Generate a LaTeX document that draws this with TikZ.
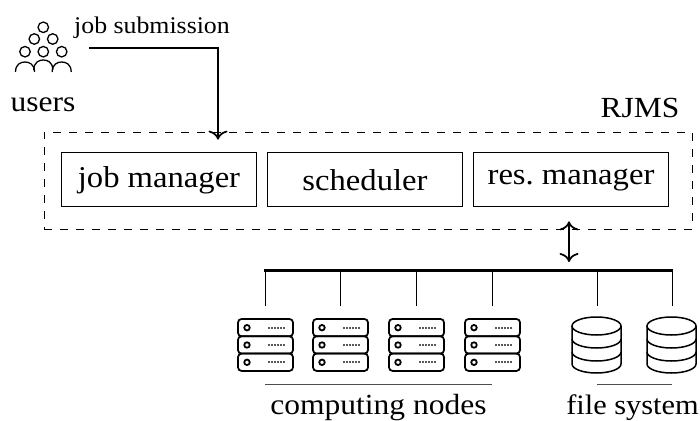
\documentclass[tikz,border=0pt]{standalone}
\usepackage{fontspec}
\setmainfont[FakeStretch=1.08]{Liberation Serif}
\usetikzlibrary{positioning,arrows.meta}

\begin{document}
\begin{tikzpicture}[
                    x=0.2mm, y=-0.2mm,
                    partnode/.style={draw, line width=0.2mm, minimum width=39mm, minimum height=10.8mm, inner sep=0pt, font=\fontsize{17.2}{19}\selectfont},
                    labelnode/.style={inner sep=0pt, font=\fontsize{16.6}{18}\selectfont},
                    smallnode/.style={inner sep=0pt, font=\fontsize{13.6}{15}\selectfont},
                    rjmsnode/.style={draw, dash pattern=on 1.6mm off 1.6mm, line width=0.15mm, minimum width=129.6mm, minimum height=19.4mm, inner sep=0pt},
                    wire/.style={line width=0.2mm},
                    arrowline/.style={line width=0.35mm},
                    server/.pic={
                        \foreach \row in {0,1,2} {
                            \draw[line width=0.35mm, rounded corners=0.7mm] (-27,{\row*17.3-26.5}) rectangle (28,{\row*17.3-9.2});
                            \draw[line width=0.35mm] (-18,{\row*17.3-17.8}) circle (0.55mm);
                            \draw[line width=0.35mm, dash pattern=on 0.3mm off 0.3mm, black!65] (3,{\row*17.3-17.8}) -- (20,{\row*17.3-17.8});
                        }
                    },
                    disk/.pic={
                        \draw[line width=0.3mm] (-24.5,-19) -- (-24.5,19) arc[start angle=180, end angle=0, x radius=24.5, y radius=9] -- (24.5,-19);
                        \draw[line width=0.3mm] (0,-19) ellipse [x radius=24.5, y radius=9];
                        \draw[line width=0.3mm] (-24.5,-6) arc[start angle=180, end angle=0, x radius=24.5, y radius=9];
                        \draw[line width=0.3mm] (-24.5,7) arc[start angle=180, end angle=0, x radius=24.5, y radius=9];
                    },
                    person/.pic={
                        \draw[line width=0.26mm] (-9.5,10) .. controls (-9.5,2) and (-4,0) .. (0,0) .. controls (4,0) and (9.5,2) .. (9.5,10);
                    },
                ]
                    \useasboundingbox (0,0) rectangle (700,421);

                    %Nodes
                    \node[rjmsnode](rjms) at (368,180.5) {};
                    \node[partnode](scheduler) at (365,180) {scheduler};
                    \node[partnode](jobmgr)[left=2mm of scheduler] {job manager};
                    \node[partnode](resmgr)[right=2mm of scheduler] {res.\ manager};
                    \node[labelnode] at (640,108) (rjmslabel) {RJMS};
                    \node[labelnode] at (43,104.5) (users) {users};
                    \node[smallnode] at (152,27.5) (submit) {job submission};
                    \node[labelnode] at (378.5,408) (compute) {computing nodes};
                    \node[labelnode, font=\fontsize{16}{18}\selectfont] at (632.5,408) (files) {file system};

                    \coordinate (busleft) at (264,270);
                    \coordinate (busright) at (673,270);
                    \coordinate (busin) at (569,270);
                    \coordinate (jobstart) at (89,48);
                    \coordinate (jobbend) at (218,48);

                    %Users
                    \foreach \cx/\cy in {43.3/27.3, 34.3/39, 52.7/39, 25/51.7, 43.3/51.7, 61.7/51.7} {
                        \draw[line width=0.26mm] (\cx,\cy) circle (1.05mm);
                    }
                    \foreach \cx/\cy in {25/62, 43.3/60, 61.7/62} {
                        \pic at (\cx,\cy) {person};
                    }

                    %Computing nodes
                    \foreach \i/\sx in {1/265, 2/340, 3/416, 4/492} {
                        \coordinate (top\i) at (\sx,270);
                        \coordinate (end\i) at (\sx,306);
                        \draw[wire](top\i) -- (end\i);
                        \pic at ({\sx},345.5) {server};
                    }

                    %File system
                    \foreach \i/\sx in {5/597, 6/672} {
                        \coordinate (top\i) at (\sx,270);
                        \coordinate (end\i) at (\sx,306);
                        \draw[wire](top\i) -- (end\i);
                        \pic at ({\sx-0.5},345) {disk};
                    }

                    %Lines
                    \draw[line width=0.6mm](busleft) -- (busright);
                    \coordinate (jobend) at ([yshift=-1.6mm]jobbend |- rjms.north);
                    \coordinate (rjmsout) at ([yshift=1.6mm]busin |- rjms.south);
                    \coordinate (busend) at ([yshift=1.6mm]busin);
                    \draw[arrowline, -{To[length=1.8mm, width=3.8mm]}](jobstart) -- (jobbend) -- (jobend);
                    \draw[arrowline, {To[length=1.8mm, width=3.8mm]}-{To[length=1.8mm, width=3.8mm]}](rjmsout) -- (busend);
                    \coordinate (groupa) at (265,384);
                    \coordinate (groupb) at (492,384);
                    \coordinate (groupc) at (597,384);
                    \coordinate (groupd) at (672,384);
                    \draw[wire, black!70](groupa) -- (groupb);
                    \draw[wire, black!70](groupc) -- (groupd);
                \end{tikzpicture}
\end{document}
